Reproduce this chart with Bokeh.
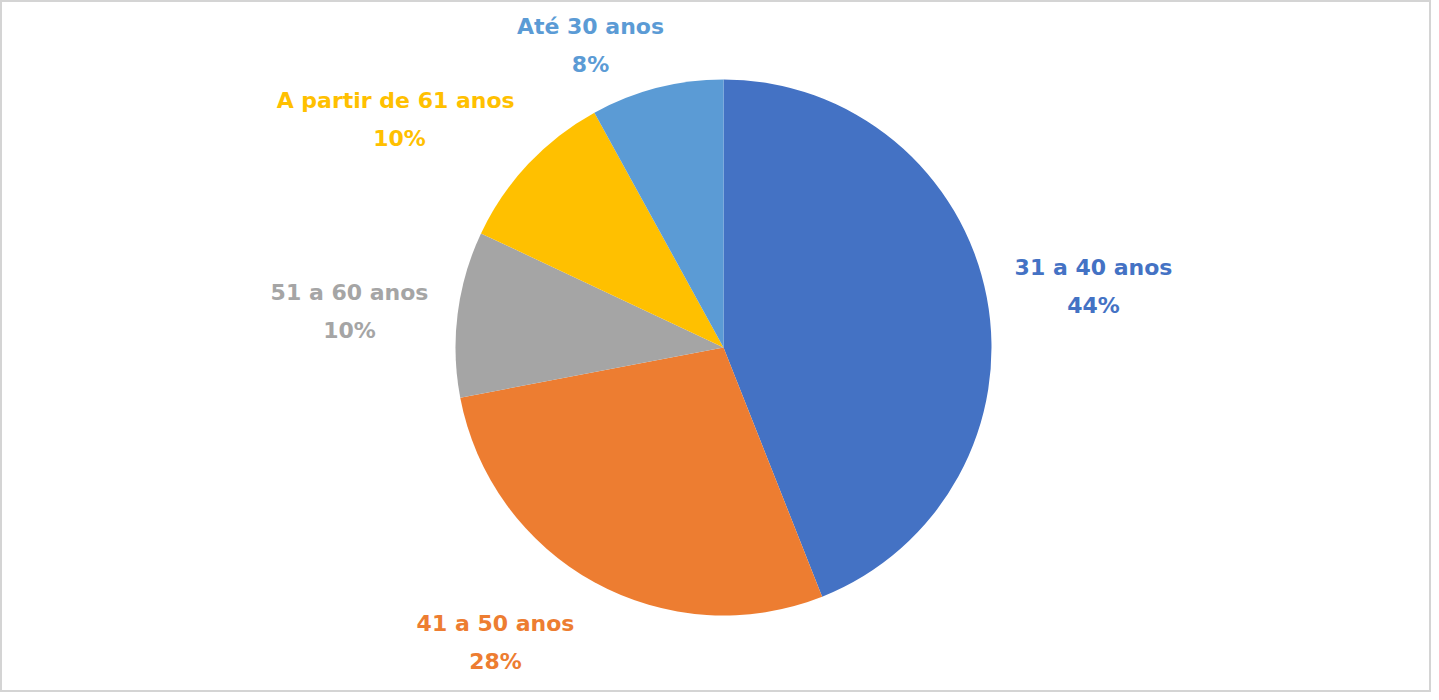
import math
from bokeh.plotting import figure
from bokeh.models import Range1d, ColumnDataSource
from bokeh.core.properties import value
from bokeh.embed import file_html
from bokeh.resources import INLINE

# ---- data ----
categories = ["31 a 40 anos", "41 a 50 anos", "51 a 60 anos", "A partir  de 61 anos", "Até 30 anos"]
shares = [44, 28, 10, 10, 8]
colors = ["#4472C4", "#ED7D31", "#A5A5A5", "#FFC000", "#5B9BD5"]

# ---- layout ----
W, H = 1431, 692
CX, CY, R = 723, 345, 268
# label block offsets from pie centre (px, y up)
label_dx = [370, -228, -374, -324, -133]
label_dy = [61, -295, 36, 228, 302]
LINE_GAP = 19

total = float(sum(shares))
starts, ends = [], []
cum = 0.0
for s in shares:
    starts.append(math.pi / 2 - 2 * math.pi * cum / total)
    cum += s
    ends.append(math.pi / 2 - 2 * math.pi * cum / total)

src = ColumnDataSource(dict(
    x=[CX] * len(shares), y=[CY] * len(shares),
    start=starts, end=ends, color=colors,
))

name_src = ColumnDataSource(dict(
    x=[CX + dx for dx in label_dx],
    y=[CY + dy + LINE_GAP for dy in label_dy],
    text=categories, color=colors,
))
pct_src = ColumnDataSource(dict(
    x=[CX + dx for dx in label_dx],
    y=[CY + dy - LINE_GAP for dy in label_dy],
    text=[f"{s}%" for s in shares], color=colors,
))

p = figure(width=W, height=H, output_backend="svg", toolbar_location=None,
           x_range=Range1d(0, W), y_range=Range1d(0, H), min_border=0)
p.axis.visible = False
p.grid.visible = False
p.outline_line_color = "#d4d4d4"
p.outline_line_width = 3
p.background_fill_color = "white"
p.border_fill_color = "white"

p.wedge(x="x", y="y", radius=R, start_angle="start", end_angle="end",
        direction="clock", fill_color="color", line_color=None, source=src)

for s in (name_src, pct_src):
    p.text(x="x", y="y", text="text", text_color="color", source=s,
           text_font=value("DejaVu Sans"), text_font_style="bold",
           text_font_size="22px", text_align="center", text_baseline="middle")

open("out.html", "w").write(file_html(p, INLINE))
